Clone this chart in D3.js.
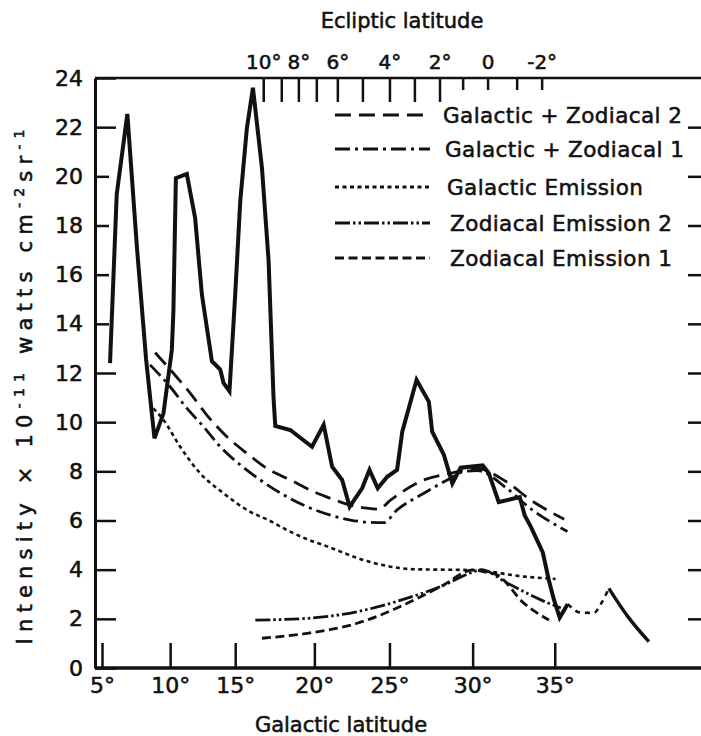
<!DOCTYPE html>
<html>
<head>
<meta charset="utf-8">
<script src="https://cdn.jsdelivr.net/npm/d3@7"></script>
<style>
body { margin: 0; background: #fff; }
text { font-family: 'DejaVu Sans', 'Liberation Sans', sans-serif; fill: #111; stroke: #111; stroke-width: 0.55px; }
</style>
</head>
<body>
<svg id="chart" width="701" height="736"></svg>
<script>
// bottom axis: galactic latitude ticks and where they fall along the scan (% of plot width)
const galTicks = [5, 10, 15, 20, 25, 30, 35];
const galTickScan = [1.15, 12.36, 23.06, 36.08, 48.43, 62.11, 75.62];

// top axis: ecliptic latitude ticks and the galactic latitude they correspond to
const eclTicks = [10, 9, 8, 7, 6, 5, 4, 3, 2, 1, 0, -1, -2];
const eclAtGal = [16.77, 17.91, 18.99, 20.13, 21.53, 23.2, 25.0, 26.5, 28.01, 29.4, 30.91, 32.68, 34.2];
const eclLabels = [10, 8, 6, 4, 2, 0, -2];

const yTicks = [0, 2, 4, 6, 8, 10, 12, 14, 16, 18, 20, 22, 24];

// [galactic latitude, intensity]
const observed = [[5.59,12.4],[6.08,19.26],[6.86,22.54],[7.55,17.2],[8.24,12.53],[8.85,9.34],[9.51,10.36],
  [10.13,12.94],[10.25,14.52],[10.44,19.93],[11.28,20.1],[11.92,18.3],[12.44,15.19],[13.21,12.48],[13.85,12.14],
  [14.1,11.6],[14.56,11.26],[14.74,12.88],[15.0,15.19],[15.32,19.0],[15.74,21.97],[16.12,23.6],[16.69,20.34],
  [17.11,16.55],[17.42,11.0],[17.53,9.85],[18.48,9.68],[19.85,9.0],[20.62,9.89],[21.18,8.19],[21.85,7.65],
  [22.35,6.56],[23.18,7.31],[23.67,8.06],[24.22,7.31],[24.85,7.78],[25.46,8.06],[25.77,9.61],[26.63,11.72],
  [27.37,10.83],[27.57,9.61],[28.27,8.67],[28.78,7.51],[29.28,8.15],[30.61,8.24],[30.98,7.93],[31.59,6.75],
  [32.87,6.95],[33.17,6.2],[33.54,5.75],[34.27,4.7],[34.63,3.6],[34.94,2.8],[35.3,2.05],[35.79,2.6]];
const observedGap = [[35.79,2.6],[36.59,2.25],[37.38,2.24],[37.8,2.6],[38.29,3.24]];
const observedTail = [[38.29,3.24],[39.45,2.09],[40.73,1.07]];

const galZod2 = [[8.9,12.83],[10.25,11.99],[11.54,11.18],[12.82,10.29],[14.36,9.41],[15.74,8.73],[17.0,8.12],
  [18.48,7.65],[19.96,7.17],[21.07,6.9],[22.35,6.63],[23.5,6.5],[24.29,6.46],[25.06,6.83],[27.07,7.65],
  [28.67,7.92],[30.2,8.12],[32,7.6],[33.5,6.85],[35.57,6.05]];
const galZod1 = [[8.53,12.33],[10.0,11.44],[11.28,10.57],[12.56,9.82],[13.85,9.0],[15.32,8.26],[16.58,7.65],
  [18.06,7.04],[19.54,6.56],[21.07,6.22],[22.4,6.02],[23.6,5.93],[24.62,5.91],[25.46,6.43],[27.07,7.11],
  [28.48,7.65],[29.48,7.99],[30.29,8.03],[32,7.35],[33.5,6.5],[35.77,5.55]];
const galactic = [[8.77,10.56],[9.51,10.09],[10.77,9.0],[12.31,7.92],[14.1,7.11],[15.74,6.43],[17.3,5.95],
  [18.27,5.61],[19.5,5.25],[20.62,5.0],[23.5,4.35],[26.4,4.02],[30.1,3.98],[33.1,3.72],[35.05,3.62]];
const zod2 = [[16.27,1.95],[19.54,2.02],[22.85,2.29],[26.07,2.84],[28.07,3.31],[30.08,3.92],[30.49,4.0],
  [32.12,3.45],[34.15,2.77],[35.37,2.44]];
const zod1 = [[16.69,1.21],[19.54,1.41],[22.85,1.82],[26.07,2.63],[28.07,3.31],[30.08,3.99],[30.79,3.9],
  [31.51,3.78],[33.13,2.63],[34.65,1.95]];

const legendNames = ['Galactic + Zodiacal 2', 'Galactic + Zodiacal 1', 'Galactic Emission',
  'Zodiacal Emission 2', 'Zodiacal Emission 1'];

const dashes = {
  galZod2: '16,8',
  galZod1: '15,5,3,5',
  galactic: '4,3.5',
  zod2: '15,3,2.5,3,2.5,3',
  zod1: '9,4.5'
};

const margin = { top: 78, left: 95, bottom: 68, right: -2 };
const W = 701, H = 736;
const width = W - margin.left - margin.right;
const height = H - margin.top - margin.bottom;

const svg = d3.select('#chart');
const g = svg.append('g').attr('transform', 'translate(' + [margin.left, margin.top] + ')');

const scan = d3.scaleLinear().domain([0, 100]).range([0, width]);
const x = d3.scaleLinear().domain(galTicks).range(galTickScan.map(scan));
const y = d3.scaleLinear().domain([0, 24]).range([height, 0]);
const xEcl = d3.scaleLinear().domain(eclTicks).range(eclAtGal.map(x));

// axes
const bottomAxis = g.append('g')
  .attr('transform', 'translate(0,' + height + ')')
  .call(d3.axisBottom(x).tickValues(galTicks).tickSizeInner(-25).tickSizeOuter(0).tickPadding(9)
    .tickFormat(function(d) { return d + '°'; }));
bottomAxis.select('.domain').attr('d', 'M0,0H' + width).attr('stroke-width', 3.5);

const leftAxis = g.append('g')
  .call(d3.axisLeft(y).tickValues(yTicks).tickSizeInner(-21).tickSizeOuter(0).tickPadding(12));
leftAxis.select('.domain').attr('stroke-width', 3);
leftAxis.selectAll('.tick line').attr('x2', function(d) { return (d >= 14 && d <= 20) ? 14 : 21; });

const rightAxis = g.append('g')
  .attr('transform', 'translate(' + width + ',0)')
  .call(d3.axisRight(y).tickValues(yTicks.slice(1, -1)).tickSizeInner(-15).tickSizeOuter(0).tickFormat(''));

const topAxis = g.append('g')
  .call(d3.axisBottom(xEcl).tickValues(eclTicks).tickSizeInner(24).tickSizeOuter(0).tickFormat(''));
topAxis.select('.domain').attr('d', 'M0,0H' + width).attr('stroke-width', 2.5);
topAxis.selectAll('.tick line').attr('y2', function(d) { return d >= 2 ? 24 : 12; });

const topLabels = g.append('g')
  .call(d3.axisTop(xEcl).tickValues(eclLabels).tickSize(0).tickPadding(9)
    .tickFormat(function(d) { return d === 0 ? '0' : d + '°'; }));
topLabels.select('.domain').remove();

g.selectAll('.tick line').attr('stroke', '#111').attr('stroke-width', 2.5);
g.selectAll('.domain').attr('stroke', '#111');
g.selectAll('.tick text').attr('font-size', 22).style('fill', '#111');
topLabels.selectAll('.tick text').attr('font-size', 20);

// titles
svg.append('text').attr('x', 341).attr('y', 732).attr('text-anchor', 'middle')
  .attr('font-size', 21).text('Galactic latitude');
svg.append('text').attr('x', 402).attr('y', 28).attr('text-anchor', 'middle')
  .attr('font-size', 21).text('Ecliptic latitude');

const yTitle = svg.append('text')
  .attr('transform', 'translate(32,387) rotate(-90)')
  .attr('text-anchor', 'middle').attr('font-size', 21)
  .attr('textLength', 515).attr('lengthAdjust', 'spacing');
yTitle.append('tspan').text('Intensity × 10');
yTitle.append('tspan').attr('dy', -8).attr('font-size', 14).text('-11');
yTitle.append('tspan').attr('dy', 8).text(' watts cm');
yTitle.append('tspan').attr('dy', -8).attr('font-size', 14).text('-2');
yTitle.append('tspan').attr('dy', 8).text('sr');
yTitle.append('tspan').attr('dy', -8).attr('font-size', 14).text('-1');

// curves
const smooth = d3.line().x(function(d) { return x(d[0]); }).y(function(d) { return y(d[1]); })
  .curve(d3.curveMonotoneX);
const straight = d3.line().x(function(d) { return x(d[0]); }).y(function(d) { return y(d[1]); });

const plot = g.append('g').attr('class', 'plot').attr('fill', 'none').attr('stroke', '#111');

const models = [
  { data: galZod2, dash: dashes.galZod2, w: 2.8 },
  { data: galZod1, dash: dashes.galZod1, w: 2.8 },
  { data: galactic, dash: dashes.galactic, w: 2.6 },
  { data: zod2, dash: dashes.zod2, w: 2.8 },
  { data: zod1, dash: dashes.zod1, w: 2.8 }
];
plot.selectAll('path.model').data(models).enter().append('path')
  .attr('class', 'model')
  .attr('d', function(d) { return smooth(d.data); })
  .attr('stroke-dasharray', function(d) { return d.dash; })
  .attr('stroke-width', function(d) { return d.w; });

plot.append('path').attr('d', straight(observed)).attr('stroke-width', 4).attr('stroke-linejoin', 'miter');
plot.append('path').attr('d', smooth(observedGap)).attr('stroke-width', 2.6).attr('stroke-dasharray', '5,5');
plot.append('path').attr('d', smooth(observedTail)).attr('stroke-width', 3.4);

// legend
const legend = svg.append('g');
const rowY = [115, 149, 187, 223, 258];
const rowX = [443, 445, 447, 450, 450];
legendNames.forEach(function(name, i) {
  const m = models[i];
  legend.append('line')
    .attr('x1', 335).attr('x2', 430).attr('y1', rowY[i]).attr('y2', rowY[i])
    .attr('stroke', '#111').attr('stroke-width', 2.8).attr('stroke-dasharray', m.dash);
  legend.append('text')
    .attr('x', rowX[i]).attr('y', rowY[i] + 8)
    .attr('font-size', 21.5).attr('letter-spacing', 0.4).text(name);
});
</script>
</body>
</html>
